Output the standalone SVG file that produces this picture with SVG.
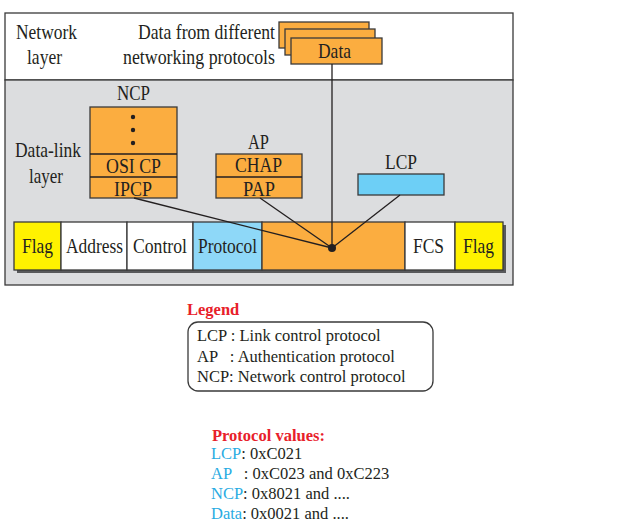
<svg xmlns="http://www.w3.org/2000/svg" width="625" height="528" viewBox="0 0 625 528">
<style>
.t{font-family:"Liberation Serif","Times New Roman",serif;font-size:22px;fill:#231f20}
.box{stroke:#3a3a3a;stroke-width:1.3}
.or{fill:#fbad40}
.ln{stroke:#231f20;stroke-width:1.3;fill:none}
.lg{font-family:"Liberation Serif","Times New Roman",serif;font-size:16.5px;fill:#231f20}
.red{font-family:"Liberation Serif","Times New Roman",serif;font-size:16.5px;font-weight:bold;fill:#e8202a}
.bl{fill:#29abe2}
</style>
<rect width="625" height="528" fill="#fff"/>
<g id="layers">
<rect x="5" y="13" width="508" height="67" fill="#fff" class="box"/>
<rect x="5" y="80" width="508" height="205" fill="#dcdddf" class="box"/>
<text class="t" x="16" y="39" textLength="61" lengthAdjust="spacingAndGlyphs">Network</text>
<text class="t" x="27" y="64" textLength="35" lengthAdjust="spacingAndGlyphs">layer</text>
<text class="t" x="15" y="157" textLength="66" lengthAdjust="spacingAndGlyphs">Data-link</text>
<text class="t" x="29" y="183" textLength="34" lengthAdjust="spacingAndGlyphs">layer</text>
<text class="t" x="138" y="39" textLength="137" lengthAdjust="spacingAndGlyphs">Data from different</text>
<text class="t" x="123" y="64" textLength="152" lengthAdjust="spacingAndGlyphs">networking protocols</text>
</g>
<g id="data">
<rect x="279" y="22" width="90" height="26" class="box or"/>
<rect x="285" y="29" width="90" height="26" class="box or"/>
<rect x="291" y="38" width="91" height="26" class="box or"/>
<text class="t" x="318" y="58" textLength="33" lengthAdjust="spacingAndGlyphs">Data</text>
</g>
<g id="ncp">
<text class="t" x="117" y="100" textLength="33" lengthAdjust="spacingAndGlyphs">NCP</text>
<rect x="90" y="107" width="87" height="91" class="box or"/>
<line x1="90" y1="154" x2="177" y2="154" class="ln"/>
<line x1="90" y1="177" x2="177" y2="177" class="ln"/>
<circle cx="133" cy="117" r="2.2" fill="#231f20"/>
<circle cx="133" cy="130" r="2.2" fill="#231f20"/>
<circle cx="133" cy="143" r="2.2" fill="#231f20"/>
<text class="t" x="106" y="173" textLength="55" lengthAdjust="spacingAndGlyphs">OSI CP</text>
<text class="t" x="114" y="196" textLength="38" lengthAdjust="spacingAndGlyphs">IPCP</text>
</g>
<g id="ap">
<text class="t" x="248" y="149" textLength="21" lengthAdjust="spacingAndGlyphs">AP</text>
<rect x="216" y="154" width="86" height="44" class="box or"/>
<line x1="216" y1="177" x2="302" y2="177" class="ln"/>
<text class="t" x="235" y="172" textLength="47" lengthAdjust="spacingAndGlyphs">CHAP</text>
<text class="t" x="243" y="196" textLength="32" lengthAdjust="spacingAndGlyphs">PAP</text>
</g>
<g id="lcp">
<text class="t" x="385" y="169" textLength="32" lengthAdjust="spacingAndGlyphs">LCP</text>
<rect x="358" y="174" width="86" height="21" fill="#6dcff6" class="box"/>
</g>
<g id="frame">
<rect x="17" y="225" width="489" height="48" fill="#58595b"/>
<rect x="14" y="222" width="47" height="48" fill="#fff200" class="box"/>
<rect x="61" y="222" width="66" height="48" fill="#fff" class="box"/>
<rect x="127" y="222" width="66" height="48" fill="#fff" class="box"/>
<rect x="193" y="222" width="69" height="48" fill="#8ed8f8" class="box"/>
<rect x="262" y="222" width="143" height="48" class="box or"/>
<rect x="405" y="222" width="50" height="48" fill="#fff" class="box"/>
<rect x="455" y="222" width="48" height="48" fill="#fff200" class="box"/>
<text class="t" x="22" y="253" textLength="31" lengthAdjust="spacingAndGlyphs">Flag</text>
<text class="t" x="66" y="253" textLength="57" lengthAdjust="spacingAndGlyphs">Address</text>
<text class="t" x="133" y="253" textLength="54" lengthAdjust="spacingAndGlyphs">Control</text>
<text class="t" x="198" y="253" textLength="59" lengthAdjust="spacingAndGlyphs">Protocol</text>
<text class="t" x="413" y="253" textLength="31" lengthAdjust="spacingAndGlyphs">FCS</text>
<text class="t" x="463" y="253" textLength="31" lengthAdjust="spacingAndGlyphs">Flag</text>
</g>
<g id="connectors">
<line x1="332" y1="64" x2="332" y2="248" class="ln"/>
<line x1="134" y1="198" x2="332" y2="248" class="ln"/>
<line x1="260" y1="198" x2="332" y2="248" class="ln"/>
<line x1="400" y1="195" x2="332" y2="248" class="ln"/>
<circle cx="332" cy="248" r="4" fill="#231f20"/>
</g>
<g id="legend">
<text class="red" x="187" y="315">Legend</text>
<rect x="188" y="322" width="245" height="69" rx="10" fill="#fff" stroke="#3a3a3a" stroke-width="1.3"/>
<text class="lg" x="197" y="341">LCP : Link control protocol</text>
<text class="lg" x="197" y="362" xml:space="preserve">AP   : Authentication protocol</text>
<text class="lg" x="197" y="382">NCP: Network control protocol</text>
</g>
<g id="values">
<text class="red" x="212" y="441">Protocol values:</text>
<text class="lg" x="211" y="459"><tspan class="bl">LCP</tspan>: 0xC021</text>
<text class="lg" x="211" y="479" xml:space="preserve"><tspan class="bl">AP</tspan>   : 0xC023 and 0xC223</text>
<text class="lg" x="211" y="499"><tspan class="bl">NCP</tspan>: 0x8021 and ....</text>
<text class="lg" x="211" y="519"><tspan class="bl">Data</tspan>: 0x0021 and ....</text>
</g>
</svg>
